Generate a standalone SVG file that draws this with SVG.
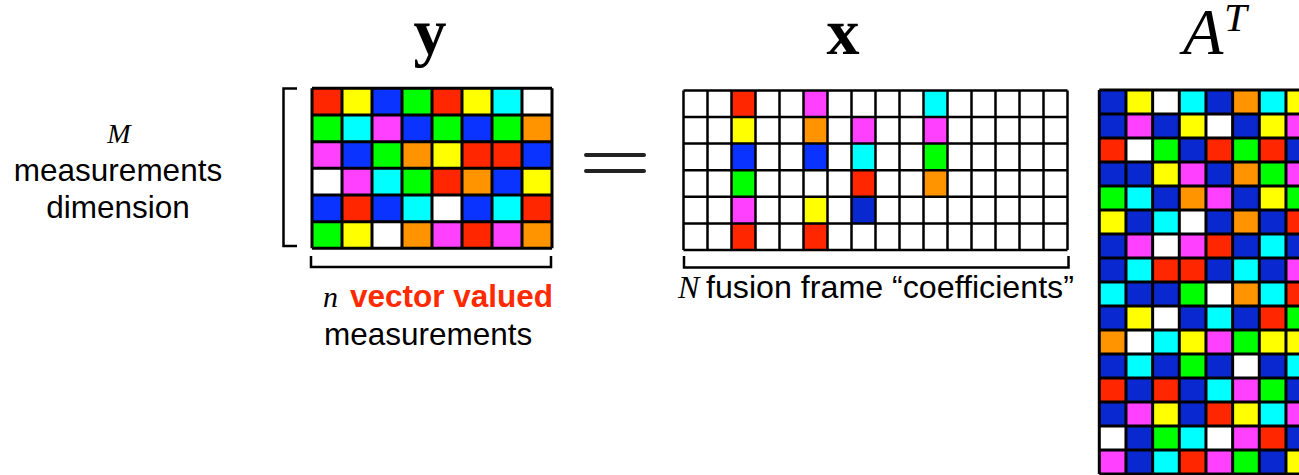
<svg xmlns="http://www.w3.org/2000/svg" width="1299" height="475" viewBox="0 0 1299 475">
<style>
.r{fill:#FF2600}.yl{fill:#FFFF00}.b{fill:#0A33FF}.d{fill:#0A28D0}.g{fill:#00FF00}.c{fill:#00FFFF}.m{fill:#FF40FF}.o{fill:#FF9300}.w{fill:#FFFFFF}
.grid{fill:none;stroke:#000;stroke-width:3}
.gridx{fill:none;stroke:#000;stroke-width:2.5}
.br{fill:none;stroke:#000;stroke-width:2.5}
.sans{font-family:"Liberation Sans",Arial,sans-serif;font-size:31.5px;fill:#000}
.serif{font-family:"Liberation Serif","Times New Roman",serif;fill:#000}
</style>
<rect width="1299" height="475" fill="#FFFFFF"/>

<g id="title-y"><text class="serif" x="430" y="54" font-size="66" font-weight="bold" text-anchor="middle">y</text></g>
<g id="title-x"><text class="serif" x="843" y="54" font-size="66" font-weight="bold" text-anchor="middle">x</text></g>
<g id="title-AT"><text class="serif" font-style="italic"><tspan x="1183" y="54" font-size="66">A</tspan><tspan x="1224" y="31" font-size="41">T</tspan></text></g>

<g id="label-M">
<text class="serif" x="119" y="143" font-size="28" font-style="italic" text-anchor="middle">M</text>
<text class="sans" x="118" y="181" text-anchor="middle">measurements</text>
<text class="sans" x="118" y="218" text-anchor="middle">dimension</text>
</g>

<g id="y-matrix" transform="translate(312,88.3)">
<rect class="r" x="0" y="0" width="30" height="26.67"/><rect class="yl" x="30" y="0" width="30" height="26.67"/><rect class="b" x="60" y="0" width="30" height="26.67"/><rect class="g" x="90" y="0" width="30" height="26.67"/><rect class="r" x="120" y="0" width="30" height="26.67"/><rect class="yl" x="150" y="0" width="30" height="26.67"/><rect class="c" x="180" y="0" width="30" height="26.67"/><rect class="w" x="210" y="0" width="30" height="26.67"/>
<rect class="g" x="0" y="26.67" width="30" height="26.67"/><rect class="c" x="30" y="26.67" width="30" height="26.67"/><rect class="m" x="60" y="26.67" width="30" height="26.67"/><rect class="b" x="90" y="26.67" width="30" height="26.67"/><rect class="g" x="120" y="26.67" width="30" height="26.67"/><rect class="b" x="150" y="26.67" width="30" height="26.67"/><rect class="g" x="180" y="26.67" width="30" height="26.67"/><rect class="o" x="210" y="26.67" width="30" height="26.67"/>
<rect class="m" x="0" y="53.33" width="30" height="26.67"/><rect class="b" x="30" y="53.33" width="30" height="26.67"/><rect class="g" x="60" y="53.33" width="30" height="26.67"/><rect class="o" x="90" y="53.33" width="30" height="26.67"/><rect class="yl" x="120" y="53.33" width="30" height="26.67"/><rect class="r" x="150" y="53.33" width="30" height="26.67"/><rect class="r" x="180" y="53.33" width="30" height="26.67"/><rect class="b" x="210" y="53.33" width="30" height="26.67"/>
<rect class="w" x="0" y="80" width="30" height="26.67"/><rect class="m" x="30" y="80" width="30" height="26.67"/><rect class="c" x="60" y="80" width="30" height="26.67"/><rect class="g" x="90" y="80" width="30" height="26.67"/><rect class="r" x="120" y="80" width="30" height="26.67"/><rect class="o" x="150" y="80" width="30" height="26.67"/><rect class="b" x="180" y="80" width="30" height="26.67"/><rect class="yl" x="210" y="80" width="30" height="26.67"/>
<rect class="b" x="0" y="106.67" width="30" height="26.67"/><rect class="r" x="30" y="106.67" width="30" height="26.67"/><rect class="b" x="60" y="106.67" width="30" height="26.67"/><rect class="c" x="90" y="106.67" width="30" height="26.67"/><rect class="w" x="120" y="106.67" width="30" height="26.67"/><rect class="b" x="150" y="106.67" width="30" height="26.67"/><rect class="c" x="180" y="106.67" width="30" height="26.67"/><rect class="r" x="210" y="106.67" width="30" height="26.67"/>
<rect class="g" x="0" y="133.33" width="30" height="26.67"/><rect class="yl" x="30" y="133.33" width="30" height="26.67"/><rect class="w" x="60" y="133.33" width="30" height="26.67"/><rect class="o" x="90" y="133.33" width="30" height="26.67"/><rect class="m" x="120" y="133.33" width="30" height="26.67"/><rect class="r" x="150" y="133.33" width="30" height="26.67"/><rect class="m" x="180" y="133.33" width="30" height="26.67"/><rect class="o" x="210" y="133.33" width="30" height="26.67"/>
<path class="grid" d="M0 0V160M30 0V160M60 0V160M90 0V160M120 0V160M150 0V160M180 0V160M210 0V160M240 0V160M0 0H240M0 26.67H240M0 53.33H240M0 80H240M0 106.67H240M0 133.33H240M0 160H240"/>
</g>

<g id="equals">
<path d="M586 155H644M586 171H644" stroke="#222" stroke-width="4" stroke-linecap="round"/>
</g>

<g id="x-matrix" transform="translate(683.5,90.4)">
<rect class="w" x="0" y="0" width="384" height="159.6"/>
<rect class="r" x="48" y="0" width="24" height="26.6"/><rect class="yl" x="48" y="26.6" width="24" height="26.6"/><rect class="b" x="48" y="53.2" width="24" height="26.6"/><rect class="g" x="48" y="79.8" width="24" height="26.6"/><rect class="m" x="48" y="106.4" width="24" height="26.6"/><rect class="r" x="48" y="133" width="24" height="26.6"/>
<rect class="m" x="120" y="0" width="24" height="26.6"/><rect class="o" x="120" y="26.6" width="24" height="26.6"/><rect class="b" x="120" y="53.2" width="24" height="26.6"/><rect class="yl" x="120" y="106.4" width="24" height="26.6"/><rect class="r" x="120" y="133" width="24" height="26.6"/>
<rect class="m" x="168" y="26.6" width="24" height="26.6"/><rect class="c" x="168" y="53.2" width="24" height="26.6"/><rect class="r" x="168" y="79.8" width="24" height="26.6"/><rect class="d" x="168" y="106.4" width="24" height="26.6"/>
<rect class="c" x="240" y="0" width="24" height="26.6"/><rect class="m" x="240" y="26.6" width="24" height="26.6"/><rect class="g" x="240" y="53.2" width="24" height="26.6"/><rect class="o" x="240" y="79.8" width="24" height="26.6"/>
<path class="gridx" d="M0 0V159.6M24 0V159.6M48 0V159.6M72 0V159.6M96 0V159.6M120 0V159.6M144 0V159.6M168 0V159.6M192 0V159.6M216 0V159.6M240 0V159.6M264 0V159.6M288 0V159.6M312 0V159.6M336 0V159.6M360 0V159.6M384 0V159.6M0 0H384M0 26.6H384M0 53.2H384M0 79.8H384M0 106.4H384M0 133H384M0 159.6H384"/>
</g>

<g id="AT-matrix" transform="translate(1099.3,90)">
<rect class="d" x="0" y="0" width="26.67" height="24"/><rect class="yl" x="26.67" y="0" width="26.67" height="24"/><rect class="w" x="53.33" y="0" width="26.67" height="24"/><rect class="c" x="80" y="0" width="26.67" height="24"/><rect class="d" x="106.67" y="0" width="26.67" height="24"/><rect class="o" x="133.33" y="0" width="26.67" height="24"/><rect class="c" x="160" y="0" width="26.67" height="24"/><rect class="yl" x="186.67" y="0" width="26.67" height="24"/>
<rect class="d" x="0" y="24" width="26.67" height="24"/><rect class="m" x="26.67" y="24" width="26.67" height="24"/><rect class="d" x="53.33" y="24" width="26.67" height="24"/><rect class="yl" x="80" y="24" width="26.67" height="24"/><rect class="w" x="106.67" y="24" width="26.67" height="24"/><rect class="d" x="133.33" y="24" width="26.67" height="24"/><rect class="yl" x="160" y="24" width="26.67" height="24"/><rect class="m" x="186.67" y="24" width="26.67" height="24"/>
<rect class="r" x="0" y="48" width="26.67" height="24"/><rect class="w" x="26.67" y="48" width="26.67" height="24"/><rect class="g" x="53.33" y="48" width="26.67" height="24"/><rect class="d" x="80" y="48" width="26.67" height="24"/><rect class="r" x="106.67" y="48" width="26.67" height="24"/><rect class="g" x="133.33" y="48" width="26.67" height="24"/><rect class="r" x="160" y="48" width="26.67" height="24"/><rect class="d" x="186.67" y="48" width="26.67" height="24"/>
<rect class="d" x="0" y="72" width="26.67" height="24"/><rect class="d" x="26.67" y="72" width="26.67" height="24"/><rect class="yl" x="53.33" y="72" width="26.67" height="24"/><rect class="m" x="80" y="72" width="26.67" height="24"/><rect class="d" x="106.67" y="72" width="26.67" height="24"/><rect class="o" x="133.33" y="72" width="26.67" height="24"/><rect class="g" x="160" y="72" width="26.67" height="24"/><rect class="m" x="186.67" y="72" width="26.67" height="24"/>
<rect class="g" x="0" y="96" width="26.67" height="24"/><rect class="c" x="26.67" y="96" width="26.67" height="24"/><rect class="d" x="53.33" y="96" width="26.67" height="24"/><rect class="o" x="80" y="96" width="26.67" height="24"/><rect class="m" x="106.67" y="96" width="26.67" height="24"/><rect class="d" x="133.33" y="96" width="26.67" height="24"/><rect class="yl" x="160" y="96" width="26.67" height="24"/><rect class="g" x="186.67" y="96" width="26.67" height="24"/>
<rect class="yl" x="0" y="120" width="26.67" height="24"/><rect class="d" x="26.67" y="120" width="26.67" height="24"/><rect class="c" x="53.33" y="120" width="26.67" height="24"/><rect class="w" x="80" y="120" width="26.67" height="24"/><rect class="d" x="106.67" y="120" width="26.67" height="24"/><rect class="o" x="133.33" y="120" width="26.67" height="24"/><rect class="d" x="160" y="120" width="26.67" height="24"/><rect class="r" x="186.67" y="120" width="26.67" height="24"/>
<rect class="d" x="0" y="144" width="26.67" height="24"/><rect class="m" x="26.67" y="144" width="26.67" height="24"/><rect class="w" x="53.33" y="144" width="26.67" height="24"/><rect class="m" x="80" y="144" width="26.67" height="24"/><rect class="r" x="106.67" y="144" width="26.67" height="24"/><rect class="d" x="133.33" y="144" width="26.67" height="24"/><rect class="c" x="160" y="144" width="26.67" height="24"/><rect class="d" x="186.67" y="144" width="26.67" height="24"/>
<rect class="d" x="0" y="168" width="26.67" height="24"/><rect class="c" x="26.67" y="168" width="26.67" height="24"/><rect class="r" x="53.33" y="168" width="26.67" height="24"/><rect class="r" x="80" y="168" width="26.67" height="24"/><rect class="d" x="106.67" y="168" width="26.67" height="24"/><rect class="c" x="133.33" y="168" width="26.67" height="24"/><rect class="d" x="160" y="168" width="26.67" height="24"/><rect class="m" x="186.67" y="168" width="26.67" height="24"/>
<rect class="c" x="0" y="192" width="26.67" height="24"/><rect class="d" x="26.67" y="192" width="26.67" height="24"/><rect class="d" x="53.33" y="192" width="26.67" height="24"/><rect class="g" x="80" y="192" width="26.67" height="24"/><rect class="w" x="106.67" y="192" width="26.67" height="24"/><rect class="o" x="133.33" y="192" width="26.67" height="24"/><rect class="c" x="160" y="192" width="26.67" height="24"/><rect class="r" x="186.67" y="192" width="26.67" height="24"/>
<rect class="d" x="0" y="216" width="26.67" height="24"/><rect class="yl" x="26.67" y="216" width="26.67" height="24"/><rect class="w" x="53.33" y="216" width="26.67" height="24"/><rect class="d" x="80" y="216" width="26.67" height="24"/><rect class="c" x="106.67" y="216" width="26.67" height="24"/><rect class="d" x="133.33" y="216" width="26.67" height="24"/><rect class="r" x="160" y="216" width="26.67" height="24"/><rect class="g" x="186.67" y="216" width="26.67" height="24"/>
<rect class="o" x="0" y="240" width="26.67" height="24"/><rect class="w" x="26.67" y="240" width="26.67" height="24"/><rect class="c" x="53.33" y="240" width="26.67" height="24"/><rect class="yl" x="80" y="240" width="26.67" height="24"/><rect class="m" x="106.67" y="240" width="26.67" height="24"/><rect class="g" x="133.33" y="240" width="26.67" height="24"/><rect class="yl" x="160" y="240" width="26.67" height="24"/><rect class="yl" x="186.67" y="240" width="26.67" height="24"/>
<rect class="d" x="0" y="264" width="26.67" height="24"/><rect class="c" x="26.67" y="264" width="26.67" height="24"/><rect class="d" x="53.33" y="264" width="26.67" height="24"/><rect class="g" x="80" y="264" width="26.67" height="24"/><rect class="d" x="106.67" y="264" width="26.67" height="24"/><rect class="w" x="133.33" y="264" width="26.67" height="24"/><rect class="d" x="160" y="264" width="26.67" height="24"/><rect class="c" x="186.67" y="264" width="26.67" height="24"/>
<rect class="r" x="0" y="288" width="26.67" height="24"/><rect class="d" x="26.67" y="288" width="26.67" height="24"/><rect class="r" x="53.33" y="288" width="26.67" height="24"/><rect class="d" x="80" y="288" width="26.67" height="24"/><rect class="c" x="106.67" y="288" width="26.67" height="24"/><rect class="m" x="133.33" y="288" width="26.67" height="24"/><rect class="g" x="160" y="288" width="26.67" height="24"/><rect class="d" x="186.67" y="288" width="26.67" height="24"/>
<rect class="d" x="0" y="312" width="26.67" height="24"/><rect class="m" x="26.67" y="312" width="26.67" height="24"/><rect class="yl" x="53.33" y="312" width="26.67" height="24"/><rect class="d" x="80" y="312" width="26.67" height="24"/><rect class="r" x="106.67" y="312" width="26.67" height="24"/><rect class="yl" x="133.33" y="312" width="26.67" height="24"/><rect class="c" x="160" y="312" width="26.67" height="24"/><rect class="m" x="186.67" y="312" width="26.67" height="24"/>
<rect class="w" x="0" y="336" width="26.67" height="24"/><rect class="d" x="26.67" y="336" width="26.67" height="24"/><rect class="g" x="53.33" y="336" width="26.67" height="24"/><rect class="c" x="80" y="336" width="26.67" height="24"/><rect class="w" x="106.67" y="336" width="26.67" height="24"/><rect class="m" x="133.33" y="336" width="26.67" height="24"/><rect class="r" x="160" y="336" width="26.67" height="24"/><rect class="d" x="186.67" y="336" width="26.67" height="24"/>
<rect class="m" x="0" y="360" width="26.67" height="24"/><rect class="d" x="26.67" y="360" width="26.67" height="24"/><rect class="c" x="53.33" y="360" width="26.67" height="24"/><rect class="r" x="80" y="360" width="26.67" height="24"/><rect class="m" x="106.67" y="360" width="26.67" height="24"/><rect class="g" x="133.33" y="360" width="26.67" height="24"/><rect class="d" x="160" y="360" width="26.67" height="24"/><rect class="yl" x="186.67" y="360" width="26.67" height="24"/>
<path class="grid" d="M0 0V384M26.67 0V384M53.33 0V384M80 0V384M106.67 0V384M133.33 0V384M160 0V384M186.67 0V384M0 0H214M0 24H214M0 48H214M0 72H214M0 96H214M0 120H214M0 144H214M0 168H214M0 192H214M0 216H214M0 240H214M0 264H214M0 288H214M0 312H214M0 336H214M0 360H214M0 384H214"/>
</g>

<g id="connectors">
<path class="br" d="M297 88.5H283.5V246H297"/>
<path class="br" d="M311 256V267H551V256"/>
<path class="br" d="M684 256V267.5H1068.5V256"/>
</g>

<g id="label-n">
<text class="serif" x="323" y="307" font-size="30" font-style="italic">n</text>
<text class="sans" x="350" y="307" font-weight="bold" style="fill:#FF2A00">vector valued</text>
<text class="sans" x="324" y="345">measurements</text>
</g>

<g id="label-N">
<text class="serif" x="678" y="298" font-size="32" font-style="italic">N</text>
<text class="sans" x="706" y="298" style="font-size:32.2px">fusion frame “coefficients”</text>
</g>
</svg>
